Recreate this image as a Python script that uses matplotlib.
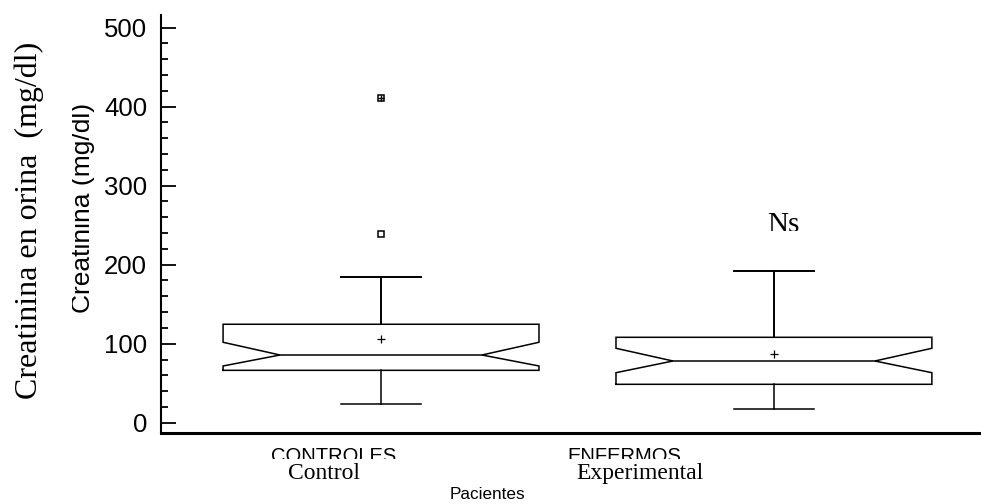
import matplotlib
matplotlib.use("Agg")
import matplotlib.pyplot as plt
from matplotlib.transforms import Bbox
import numpy as np

# Datos (creatinina en orina, mg/dl)
categorias = ['CONTROLES', 'ENFERMOS']
grupos = ['Control', 'Experimental']
q1 = [66.3, 48.6]
mediana = [85.7, 78.1]
q3 = [124.6, 108.1]
bigote_inf = [23.3, 17.3]
bigote_sup = [184.8, 192.4]
media = [106.3, 86.6]
muesca_inf = [71.8, 63.3]
muesca_sup = [101.8, 94.2]
atipicos_cerca = [238.9]   # grupo CONTROLES
atipicos_lejos = [410.6]   # grupo CONTROLES
y_ticks = [0, 100, 200, 300, 400, 500]

W, H = 981, 504
fig = plt.figure(figsize=(W / 100, H / 100), dpi=100)

# Ejes en pixeles: izquierda 161, derecha 981, arriba 15, abajo 433
ax = fig.add_axes([161 / W, 1 - 433.3 / H, (981 - 161) / W, (433.3 - 15) / H])
ax.set_xlim(0.44, 2.527)
ax.set_ylim(-13.4, 516)

ancho = 0.804
prof_muesca = 0.145
ancho_tope = 0.204
lw = 1.1

for i in range(len(categorias)):
    pos = i + 1
    izq, der = pos - ancho / 2, pos + ancho / 2
    # caja con muesca
    bx = [izq, der, der, der - prof_muesca, der, der, izq, izq, izq + prof_muesca, izq, izq]
    by = [q1[i], q1[i], muesca_inf[i], mediana[i], muesca_sup[i], q3[i], q3[i],
          muesca_sup[i], mediana[i], muesca_inf[i], q1[i]]
    ax.plot(bx, by, color='black', lw=lw, solid_joinstyle='miter')
    ax.plot([izq + prof_muesca, der - prof_muesca], [mediana[i], mediana[i]], color='black', lw=lw)
    # bigotes
    ax.plot([pos, pos], [q3[i], bigote_sup[i]], color='black', lw=1.4)
    ax.plot([pos, pos], [q1[i], bigote_inf[i]], color='black', lw=1.1)
    ax.plot([pos - ancho_tope / 2, pos + ancho_tope / 2], [bigote_sup[i]] * 2, color='black', lw=1.4)
    ax.plot([pos - ancho_tope / 2, pos + ancho_tope / 2], [bigote_inf[i]] * 2, color='black', lw=1.1)
    # media
    ax.plot(pos, media[i], marker='+', color='black', ms=6, mew=0.9)

# valores atípicos del grupo control
ax.plot([1] * len(atipicos_cerca), atipicos_cerca, ls='none', marker='s', ms=4,
        mfc='none', mec='black', mew=1.1)
ax.plot([1] * len(atipicos_lejos), atipicos_lejos, ls='none', marker='s', ms=4,
        mfc='none', mec='black', mew=1.1)
ax.plot([1] * len(atipicos_lejos), atipicos_lejos, ls='none', marker='+', ms=5,
        color='black', mew=1.0)

for lado in ['top', 'right']:
    ax.spines[lado].set_visible(False)
ax.spines['left'].set_linewidth(1.5)
ax.spines['bottom'].set_linewidth(2.2)
ax.set_xticks([])
ax.set_yticks(y_ticks)
ax.set_yticks(np.arange(0, 501, 20), minor=True)
ax.tick_params(axis='y', which='major', direction='in', length=11, width=1.3,
               pad=10, labelsize=18.5)
ax.tick_params(axis='y', which='minor', direction='in', length=5, width=1.3)
for t in ax.get_yticklabels():
    t.set_fontfamily('Liberation Sans')


def texto(x, y, s, clip=None, **kw):
    t = fig.text(x / W, 1 - y / H, s, **kw)
    if clip is not None:
        x0, y0, x1, y1 = clip
        t.set_clip_box(Bbox([[x0, H - y1], [x1, H - y0]]))
        t.set_clip_on(True)
    return t


serif = 'Liberation Serif'
sans = 'Liberation Sans'

# Etiquetas del eje y superpuestas
texto(29, 220.5, 'Creatinina en orina  (mg/dl)', family=serif, fontsize=23,
      rotation=90, ha='center', va='center')
texto(90, 207.5, 'Creatinina (mg/dl)', family=sans, fontsize=19, rotation=90,
      rotation_mode='anchor', ha='center', va='baseline', clip=(72, 0, 200, 504))

# Categorías (recortadas por abajo)
texto(334, 461.5, categorias[0], family=sans, fontsize=14.5, ha='center',
      va='baseline', clip=(0, 0, W, 459))
texto(624, 461.5, categorias[1], family=sans, fontsize=14.5, ha='center',
      va='baseline', clip=(0, 0, W, 459))
texto(324, 478.6, grupos[0], family=serif, fontsize=17, ha='center', va='baseline')
texto(640, 478.6, grupos[1], family=serif, fontsize=17, ha='center', va='baseline')
texto(487, 499, 'Pacientes', family=sans, fontsize=12.3, ha='center', va='baseline')

texto(783, 232, 'Ns', family=serif, fontsize=21, ha='center', va='baseline',
      clip=(0, 0, W, 231))

fig.savefig('out.png', dpi=100, facecolor='white')
